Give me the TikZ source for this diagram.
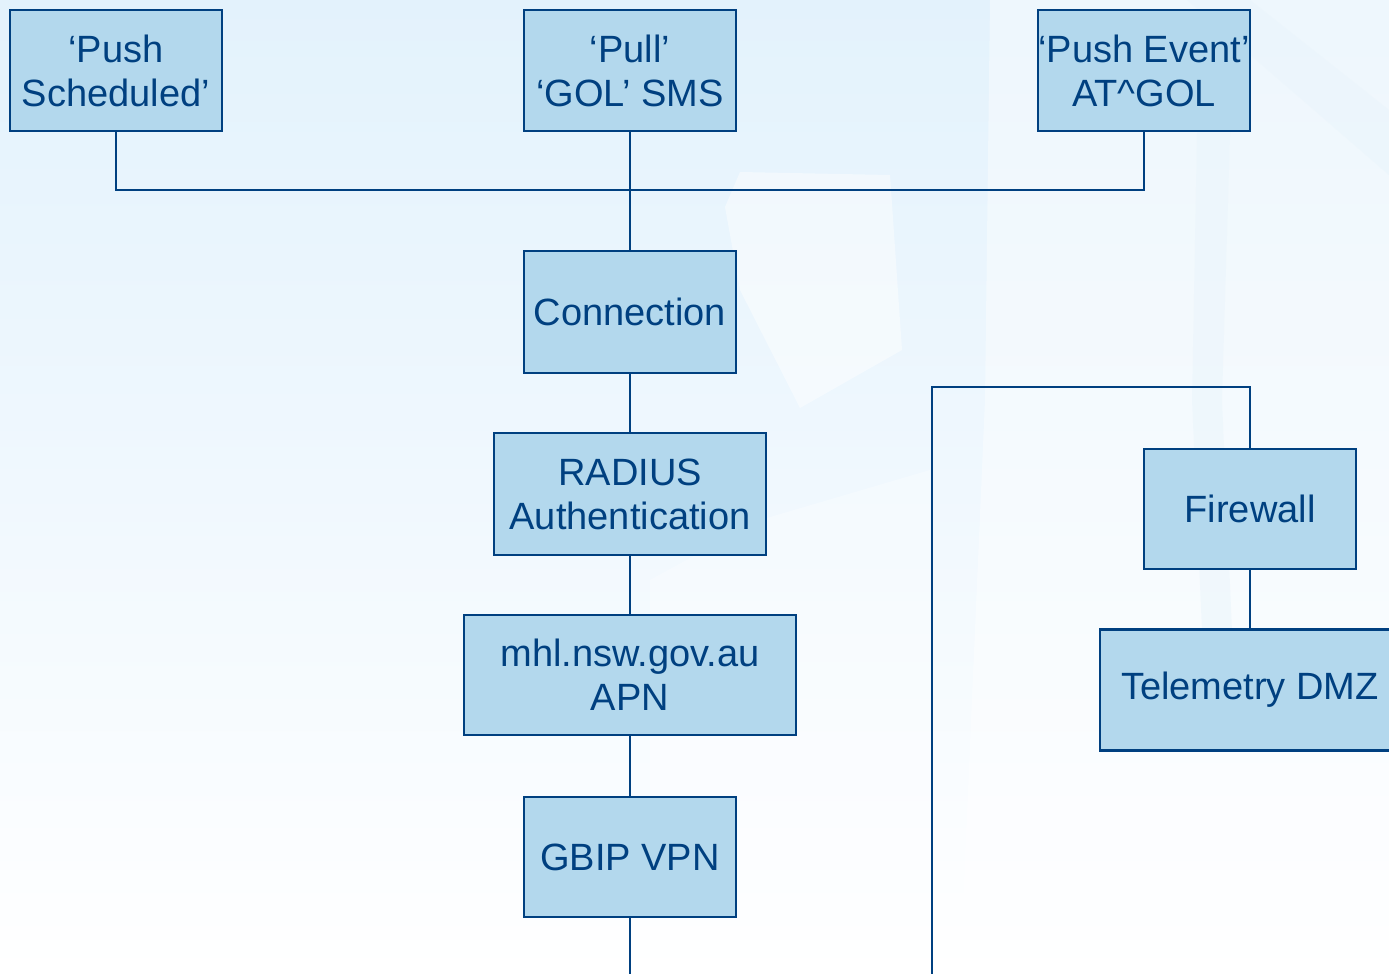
\documentclass[tikz,border=0pt]{standalone}
\usepackage{fontspec}
\setmainfont{Liberation Sans}
\definecolor{ink}{RGB}{0,64,128}
\definecolor{boxfill}{RGB}{179,216,237}
\definecolor{bgtop}{RGB}{227,242,252}
\definecolor{bgmid}{RGB}{240,248,254}
\definecolor{wm}{RGB}{234,245,252}
\tikzset{
  blk/.style={draw=ink, line width=2.5pt, fill=boxfill, text=ink, inner sep=0pt,
    align=center, font=\fontsize{38}{44}\selectfont},
  wire/.style={draw=ink, line width=2pt}
}
\begin{document}
\begin{tikzpicture}[x=1pt,y=-1pt]
\useasboundingbox (0,0) rectangle (1389,974);
\clip (0,0) rectangle (1389,974);
% background
\shade[top color=bgtop, bottom color=white, middle color=bgmid] (0,0) rectangle (1389,974);
% watermark (faint)
\fill[white, opacity=0.4] (990,0) -- (1389,0) -- (1389,974) -- (960,974) -- (985,400) -- cycle;
\fill[wm, opacity=0.5] (1198,80) -- (1232,70) -- (1222,400) -- (1235,700) -- (1205,700) -- (1192,400) -- cycle;
\fill[wm, opacity=0.6] (1187,0) -- (1250,0) -- (1389,110) -- (1389,175) -- cycle;
\fill[white, opacity=0.45] (725,207) -- (740,172) -- (890,175) -- (902,350) -- (800,408) -- (740,290) -- cycle;
\fill[white, opacity=0.3] (650,580) -- (760,520) -- (930,470) -- (930,974) -- (650,974) -- cycle;
% nodes
\node[blk, minimum width=212pt, minimum height=121pt] (push) at (116,70.5) {‘Push\\Scheduled’};
\node[blk, minimum width=212pt, minimum height=121pt] (pull) at (630,70.5) {‘Pull’\\‘GOL’ SMS};
\node[blk, minimum width=212pt, minimum height=121pt] (event) at (1144,70.5) {‘Push Event’\\AT\textasciicircum GOL};
\node[blk, minimum width=212pt, minimum height=122pt] (conn) at (630,312) {Connection};
\node[blk, minimum width=272pt, minimum height=122pt] (radius) at (630,494) {RADIUS\\Authentication};
\node[blk, minimum width=332pt, minimum height=120pt] (apn) at (630,675) {mhl.nsw.gov.au\\APN};
\node[blk, minimum width=212pt, minimum height=120pt] (gbip) at (630,857) {GBIP VPN};
\node[blk, minimum width=212pt, minimum height=120pt] (fw) at (1250,509) {Firewall};
\node[blk, minimum width=300pt, minimum height=121pt] (dmz) at (1250,690) {Telemetry DMZ};
% coordinates
\coordinate (bus) at (630,190);
\coordinate (gbipend) at (630,976);
\coordinate (lineL) at (932,976);
\coordinate (cornerL) at (932,387);
\coordinate (cornerR) at (1250,387);
% connectors
\draw[wire] (push.south) |- (bus) -| (event.south);
\draw[wire] (pull.south) -- (conn.north);
\draw[wire] (conn.south) -- (radius.north);
\draw[wire] (radius.south) -- (apn.north);
\draw[wire] (apn.south) -- (gbip.north);
\draw[wire] (gbip.south) -- (gbipend);
\draw[wire] (lineL) -- (cornerL) -- (cornerR) -- (fw.north);
\draw[wire] (fw.south) -- (dmz.north);
\end{tikzpicture}
\end{document}
